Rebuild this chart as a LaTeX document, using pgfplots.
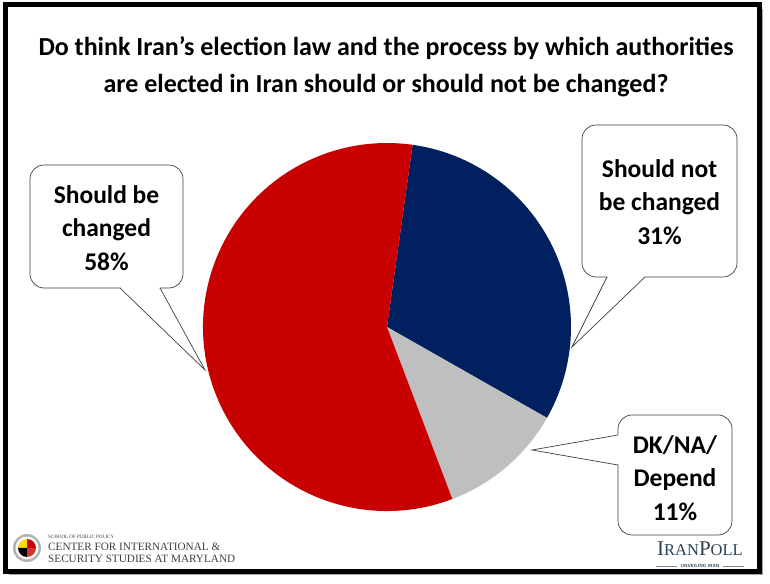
\documentclass[border=0pt]{standalone}
\usepackage{pgfplots}
\pgfplotsset{compat=1.18}
\usepackage{pgfplotstable}
\usepackage{fontspec}
\setmainfont{Carlito}
\newfontfamily\serif{Liberation Serif}
\definecolor{piered}{RGB}{200,0,0}
\definecolor{pienavy}{RGB}{0,32,96}
\definecolor{piegray}{RGB}{191,191,191}
\definecolor{logoblue}{RGB}{40,65,85}
\pgfplotstableread{
label value
notchanged 31
dkna 11
changed 58
}\piedata
\begin{document}
\begin{tikzpicture}[x=1pt,y=1pt]
\pgfplotstablegetelem{0}{value}\of\piedata \let\vA\pgfplotsretval
\pgfplotstablegetelem{1}{value}\of\piedata \let\vB\pgfplotsretval
\pgfplotstablegetelem{2}{value}\of\piedata \let\vC\pgfplotsretval
\pgfmathsetmacro\aA{82}
\pgfmathsetmacro\aB{\aA-3.6*\vA}
\pgfmathsetmacro\aC{\aB-3.6*\vB}
\pgfmathsetmacro\aD{\aC-3.6*\vC}
% background and frame
\fill[white] (0,0) rectangle (770,583);
\fill[black!35] (9,8) rectangle (763,574);
\fill[white] (5,12) rectangle (759,578);
\draw[line width=5pt] (5,12) rectangle (759,578);
% title
\node[font=\fontsize{26}{37}\selectfont\bfseries, align=center] at (386,516)
  {Do think Iran’s election law and the process by which authorities\\are elected in Iran should or should not be changed?};
\begin{axis}[at={(387,256)}, anchor=origin, x=1pt, y=1pt,
  xmin=-200, xmax=200, ymin=-200, ymax=200, hide axis, scale only axis]
  \fill[pienavy] (axis cs:0,0) -- (axis cs:{184*cos(\aA)},{184*sin(\aA)}) arc[start angle=\aA, end angle=\aB, radius=184pt] -- cycle;
  \fill[piegray] (axis cs:0,0) -- (axis cs:{184*cos(\aB)},{184*sin(\aB)}) arc[start angle=\aB, end angle=\aC, radius=184pt] -- cycle;
  \fill[piered] (axis cs:0,0) -- (axis cs:{184*cos(\aC)},{184*sin(\aC)}) arc[start angle=\aC, end angle=\aD, radius=184pt] -- cycle;
\end{axis}
% callouts
\tikzset{box/.style={fill=white, draw=black!75, line width=0.7pt, rounded corners=14pt},
  ptr/.style={draw=black!75, line width=0.7pt},
  txt/.style={align=center, font=\fontsize{25.5}{33.5}\selectfont\bfseries, inner sep=0pt}}
% left
\path[box] (30,295) rectangle (183,418);
\fill[white] (120.4,296) -- (120.4,294) -- (205,213) -- (159.6,294) -- (159.6,296) -- cycle;
\draw[ptr] (120,295) -- (205,213) -- (160,295);
\node[txt] at (106.5,355) {Should be\\changed\\58\%};
% right
\path[box] (582,306) rectangle (737,458);
\fill[white] (607.4,307) -- (607.4,305) -- (572,236) -- (644.6,305) -- (644.6,307) -- cycle;
\draw[ptr] (607,306) -- (572,236) -- (645,306);
\node[txt] at (659.5,381) {Should not\\be changed\\31\%};
% dk
\path[box] (618,48) rectangle (732,168);
\fill[white] (619,148.4) -- (617,148.4) -- (532,133) -- (617,118.6) -- (619,118.6) -- cycle;
\draw[ptr] (618,148) -- (532,133) -- (618,118);
\node[txt] at (675,105) {DK/NA/\\Depend\\11\%};
% left logo
\fill[black!30] (27,35) circle (14);
\fill[white] (27,35) circle (11.5);
\fill[piered] (27,35) -- ++(0:9) arc[start angle=0,end angle=90,radius=9] -- cycle;
\fill[yellow!80!orange] (27,35) -- ++(90:9) arc[start angle=90,end angle=180,radius=9] -- cycle;
\fill[black] (27,35) -- ++(180:9) arc[start angle=180,end angle=270,radius=9] -- cycle;
\fill[piered!80] (27,35) -- ++(270:9) arc[start angle=270,end angle=360,radius=9] -- cycle;
\node[anchor=west, font=\serif\fontsize{5}{6}\selectfont, text=black!75, inner sep=0pt] at (48,46) {SCHOOL OF PUBLIC POLICY};
\node[anchor=west, font=\serif\fontsize{11.2}{12}\selectfont, text=black!75, inner sep=0pt] at (48,36) {CENTER FOR INTERNATIONAL \&};
\node[anchor=west, font=\serif\fontsize{11.2}{12}\selectfont, text=black!75, inner sep=0pt] at (48,24) {SECURITY STUDIES AT MARYLAND};
% right logo
\node[anchor=center, font=\serif, text=logoblue, inner sep=0pt] at (700,34)
  {\fontsize{21}{21}\selectfont I\fontsize{16.5}{16.5}\selectfont RAN\fontsize{21}{21}\selectfont P\fontsize{16.5}{16.5}\selectfont OLL};
\node[font=\sffamily\fontsize{4.5}{5}\selectfont\bfseries, text=logoblue, inner sep=0pt] (uv) at (700,17) {UNVEILING IRAN};
\draw[logoblue!60, line width=0.4pt] (656,17) -- ([xshift=-3pt]uv.west);
\draw[logoblue!60, line width=0.4pt] ([xshift=3pt]uv.east) -- (744,17);
\end{tikzpicture}
\end{document}
